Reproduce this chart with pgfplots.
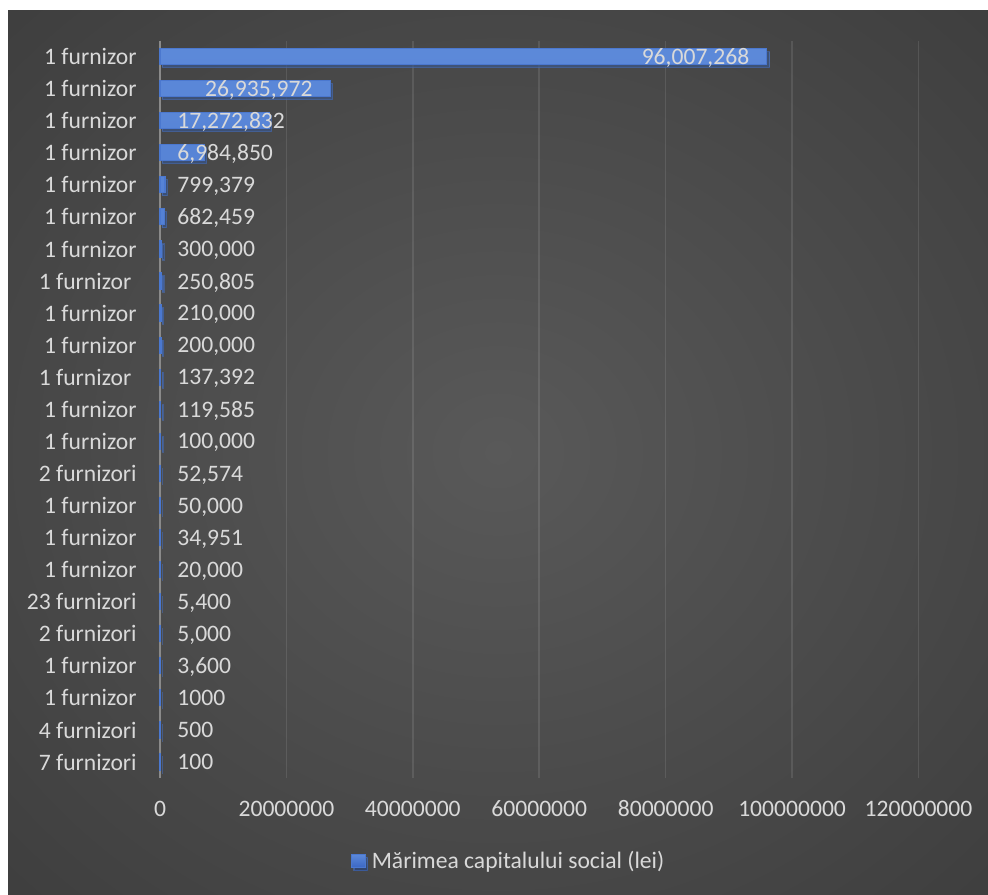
\documentclass[border=0pt]{standalone}
\usepackage{pgfplots}
\pgfplotsset{compat=1.18}
\usepackage{pgfplotstable}
\usepackage{fontspec}
\setmainfont{Carlito}
\usetikzlibrary{shadows}
\definecolor{txt}{HTML}{D9D9D9}
\definecolor{bgin}{HTML}{595959}
\definecolor{bgout}{HTML}{242424}
\definecolor{bartop}{HTML}{5C89D9}
\definecolor{barbot}{HTML}{3A66C4}
\definecolor{barmid}{HTML}{4B78CF}
\definecolor{axgray}{HTML}{8A8A8A}
\pgfdeclareradialshading{bgshade}{\pgfpoint{0bp}{0bp}}{color(0bp)=(bgin); color(71bp)=(bgout)}
\newcommand\cf{\fontsize{11.8pt}{13pt}\selectfont}

\pgfplotstableread{
y x
0 96007268
1 26935972
2 17272832
3 6984850
4 799379
5 682459
6 300000
7 250805
8 210000
9 200000
10 137392
11 119585
12 100000
13 52574
14 50000
15 34951
16 20000
17 5400
18 5000
19 3600
20 1000
21 500
22 100
}\bars

\pgfplotstableread{
y x lab
2 2690000 17,272,832
3 2690000 6,984,850
4 2690000 799,379
5 2690000 682,459
6 2690000 300,000
7 2690000 250,805
8 2690000 210,000
9 2690000 200,000
10 2690000 137,392
11 2690000 119,585
12 2690000 100,000
13 2690000 52,574
14 2690000 50,000
15 2690000 34,951
16 2690000 20,000
17 2690000 5,400
18 2690000 5,000
19 2690000 3,600
20 2690000 1000
21 2690000 500
22 2690000 100
}\labL

\pgfplotstableread{
y x lab
0 93280000 96,007,268
1 24190000 26,935,972
}\labR

\begin{document}
\begin{tikzpicture}
\path[use as bounding box] (0,0) rectangle (494pt,447pt);
\path[shading=bgshade] (4pt,0pt) rectangle (494pt,441.75pt);
\begin{axis}[
  at={(80pt,426.75pt)}, anchor=north west,
  scale only axis, width=379.25pt, height=368.75pt,
  xmin=0, xmax=120000000, ymin=-0.5, ymax=22.5,
  y dir=reverse,
  clip=false,
  axis lines*=left,
  axis line style={-},
  x axis line style={draw=none},
  y axis line style={draw=axgray, line width=1pt},
  major tick length=0pt,
  xmajorgrids,
  major grid style={white, opacity=0.1, line width=0.8pt},
  scaled x ticks=false,
  xtick={0,20000000,40000000,60000000,80000000,100000000,120000000},
  xticklabels={0,20000000,40000000,60000000,80000000,100000000,120000000},
  xticklabel style={font=\cf, text=txt, anchor=center, inner sep=0pt, text depth=0pt, yshift=-15.25pt},
  ytick={0,1,...,22},
  yticklabels={1 furnizor,1 furnizor,1 furnizor,1 furnizor,1 furnizor,1 furnizor,1 furnizor,1 furnizor\ \ ,1 furnizor,1 furnizor,1 furnizor\ \ ,1 furnizor,1 furnizor,2 furnizori,1 furnizor,1 furnizor,1 furnizor,23 furnizori,2 furnizori,1 furnizor,1 furnizor,4 furnizori,7 furnizori},
  yticklabel style={font=\cf, text=txt, anchor=east, inner sep=0pt, text depth=0pt, xshift=-11.5pt},
  legend style={at={(0.461,0)}, anchor=center, yshift=-41.5pt, draw=none, fill=none, text=txt, font=\cf, inner sep=0pt},
  legend cell align=left,
]
\addplot[xbar, bar width=8pt, draw=barmid, line width=0.6pt, top color=bartop, bottom color=barbot,
  drop shadow={shadow xshift=1.2pt, shadow yshift=-1.5pt, opacity=0.45, fill=black},
  legend image code/.code={\fill[top color=bartop, bottom color=barbot] (-0.4pt,-3.4pt) rectangle (6.4pt,3.4pt);}]
  table[x=x, y=y] {\bars};
\addlegendentry{\hspace{1pt}Mărimea capitalului social (lei)}
\addplot[draw=none, forget plot, nodes near coords, point meta=explicit symbolic,
  every node near coord/.append style={anchor=west, inner sep=0pt, text depth=0pt, font=\cf, text=txt}]
  table[x=x, y=y, meta=lab] {\labL};
\addplot[draw=none, forget plot, nodes near coords, point meta=explicit symbolic,
  every node near coord/.append style={anchor=east, inner sep=0pt, text depth=0pt, font=\cf, text=txt}]
  table[x=x, y=y, meta=lab] {\labR};
\end{axis}
\end{tikzpicture}
\end{document}
